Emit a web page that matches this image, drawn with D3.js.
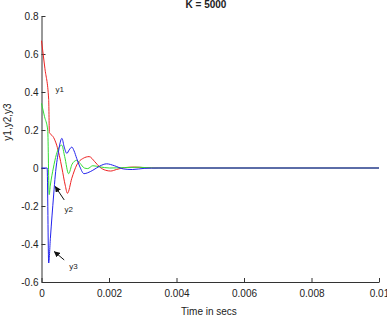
<!DOCTYPE html>
<html>
<head>
<meta charset="utf-8">
<script src="https://d3js.org/d3.v7.min.js"></script>
<style>
  body { margin: 0; background: #fff; }
  text { font-family: "Liberation Sans", Arial, Helvetica, sans-serif; fill: #222; }
</style>
</head>
<body>
<div class="chart"></div>
<script>

// values (time in secs)
var y1Time = [0, 0.0001, 0.000213, 0.000234, 0.00026, 0.00036, 0.00045, 0.00053, 0.000605, 0.000702, 0.000769, 0.000898, 0.001044, 0.001237, 0.001412, 0.001579, 0.001725, 0.0019, 0.00205, 0.00222, 0.00246, 0.00275, 0.00304, 0.00348, 0.01];
var y1Vals = [0.67, 0.525, 0.36, 0.185, 0.18, 0.16, 0.12, 0.065, 0.0, -0.09, -0.133, -0.054, 0.016, 0.051, 0.06, 0.033, 0.005, -0.012, -0.016, -0.008, 0.002, 0.005, 0.002, 0, 0];

var y2Time = [0, 0.00009, 0.000184, 0.000228, 0.000263, 0.000351, 0.000439, 0.000526, 0.0006, 0.000687, 0.000804, 0.000906, 0.001038, 0.00114, 0.00127, 0.00137, 0.00152, 0.001725, 0.00202, 0.00246, 0.0029, 0.00333, 0.01];
var y2Vals = [0.34, 0.27, 0.2, -0.14, -0.09, 0.0, 0.07, 0.11, 0.12, 0.06, -0.03, 0.02, 0.04, 0.025, 0.0, -0.003, 0.012, 0.006, 0.0, 0.002, 0.004, 0, 0];

var y3Time = [0, 0.000167, 0.000213, 0.000263, 0.00036, 0.000409, 0.000497, 0.000605, 0.000673, 0.000751, 0.000819, 0.000898, 0.000965, 0.001044, 0.00114, 0.00126, 0.00137, 0.00152, 0.001725, 0.00193, 0.00216, 0.00243, 0.00269, 0.00304, 0.00348, 0.01];
var y3Vals = [0, 0, -0.5, -0.37, -0.142, -0.037, 0.08, 0.156, 0.11, 0.077, 0.095, 0.11, 0.09, 0.05, 0.005, -0.03, -0.025, -0.012, 0.01, 0.022, 0.012, -0.005, -0.008, -0.002, 0, 0];

var xTicks = [0, 0.002, 0.004, 0.006, 0.008, 0.01];
var xTickLabels = ["0", "0.002", "0.004", "0.006", "0.008", "0.01"];
var yTicks = [-0.6, -0.4, -0.2, 0, 0.2, 0.4, 0.6, 0.8];
var yTickLabels = ["-0.6", "-0.4", "-0.2", "0", "0.2", "0.4", "0.6", "0.8"];

// annotations: label text, label pos, arrow tail / tip (data coords)
var noteText = ["y1", "y2", "y3"];
var noteAt = [[0.00054, 0.41], [0.000805, -0.218], [0.00095, -0.52]];
var arrowFrom = [null, [0.000673, -0.168], [0.000673, -0.484]];
var arrowTo = [null, [0.000409, -0.098], [0.00038, -0.44]];

var width = 387, height = 318;
var margin = {top: 16, left: 41.5, bottom: 36, right: 8};

var svg = d3.select(".chart").append("svg")
  .attr("width", width)
  .attr("height", height)

svg.append("rect")
  .attr("width", width)
  .attr("height", height)
  .attr("fill", "#fff")

var x = d3.scaleLinear()
  .domain([0, 0.01])
  .range([margin.left, width - margin.right]);

var y = d3.scaleLinear()
  .domain([-0.6, 0.8])
  .range([height - margin.bottom, margin.top]);

// axes, ticks pointing inward
var xAxis = d3.axisBottom(x)
  .tickValues(xTicks)
  .tickFormat(function(d, i) { return xTickLabels[i]; })
  .tickSizeInner(-4)
  .tickSizeOuter(0)
  .tickPadding(8);

var yAxis = d3.axisLeft(y)
  .tickValues(yTicks)
  .tickFormat(function(d, i) { return yTickLabels[i]; })
  .tickSizeInner(-4)
  .tickSizeOuter(0)
  .tickPadding(3);

var gx = svg.append("g")
  .attr("transform", "translate(0," + y(-0.6) + ")")
  .call(xAxis);

var gy = svg.append("g")
  .attr("transform", "translate(" + x(0) + ",0)")
  .call(yAxis);

svg.selectAll(".domain, .tick line")
  .attr("stroke", "#333")
  .attr("stroke-width", 1);

svg.selectAll(".tick text")
  .style("font-size", "10px")
  .style("font-family", "'Liberation Sans', Arial, sans-serif")
  .attr("fill", "#222");

// curves
var line = d3.line()
  .x(function(d) { return x(d[0]); })
  .y(function(d) { return y(d[1]); })
  .curve(d3.curveMonotoneX);

var series = [
  {t: y1Time, v: y1Vals, color: "#ee2222"},
  {t: y2Time, v: y2Vals, color: "#33dd33"},
  {t: y3Time, v: y3Vals, color: "#2222ee"}
];

series.forEach(function(s) {
  svg.append("path")
    .attr("fill", "none")
    .attr("stroke", s.color)
    .attr("stroke-width", 1)
    .attr("d", line(d3.zip(s.t, s.v)));
});

// arrow head
svg.append("defs").append("marker")
  .attr("id", "head")
  .attr("viewBox", "0 0 10 10")
  .attr("refX", 9)
  .attr("refY", 5)
  .attr("markerWidth", 6)
  .attr("markerHeight", 6)
  .attr("orient", "auto")
  .append("path")
  .attr("d", "M0,0L10,5L0,10z")
  .attr("fill", "#111");

noteText.forEach(function(txt, i) {
  if (arrowFrom[i]) {
    svg.append("line")
      .attr("x1", x(arrowFrom[i][0]))
      .attr("y1", y(arrowFrom[i][1]))
      .attr("x2", x(arrowTo[i][0]))
      .attr("y2", y(arrowTo[i][1]))
      .attr("stroke", "#111")
      .attr("stroke-width", 1)
      .attr("marker-end", "url(#head)");
  }
  svg.append("text")
    .attr("x", x(noteAt[i][0]))
    .attr("y", y(noteAt[i][1]))
    .attr("text-anchor", "middle")
    .attr("dominant-baseline", "middle")
    .style("font-size", "8px")
    .text(txt);
});

// labels
svg.append("text")
  .attr("x", 206)
  .attr("y", 8)
  .attr("text-anchor", "middle")
  .style("font-size", "10px")
  .style("font-weight", "bold")
  .text("K = 5000");

svg.append("text")
  .attr("x", 209)
  .attr("y", 315)
  .attr("text-anchor", "middle")
  .style("font-size", "10px")
  .text("Time in secs");

svg.append("text")
  .attr("transform", "translate(11,122) rotate(-90)")
  .attr("text-anchor", "middle")
  .style("font-size", "10px")
  .text("y1,y2,y3");

</script>
</body>
</html>
